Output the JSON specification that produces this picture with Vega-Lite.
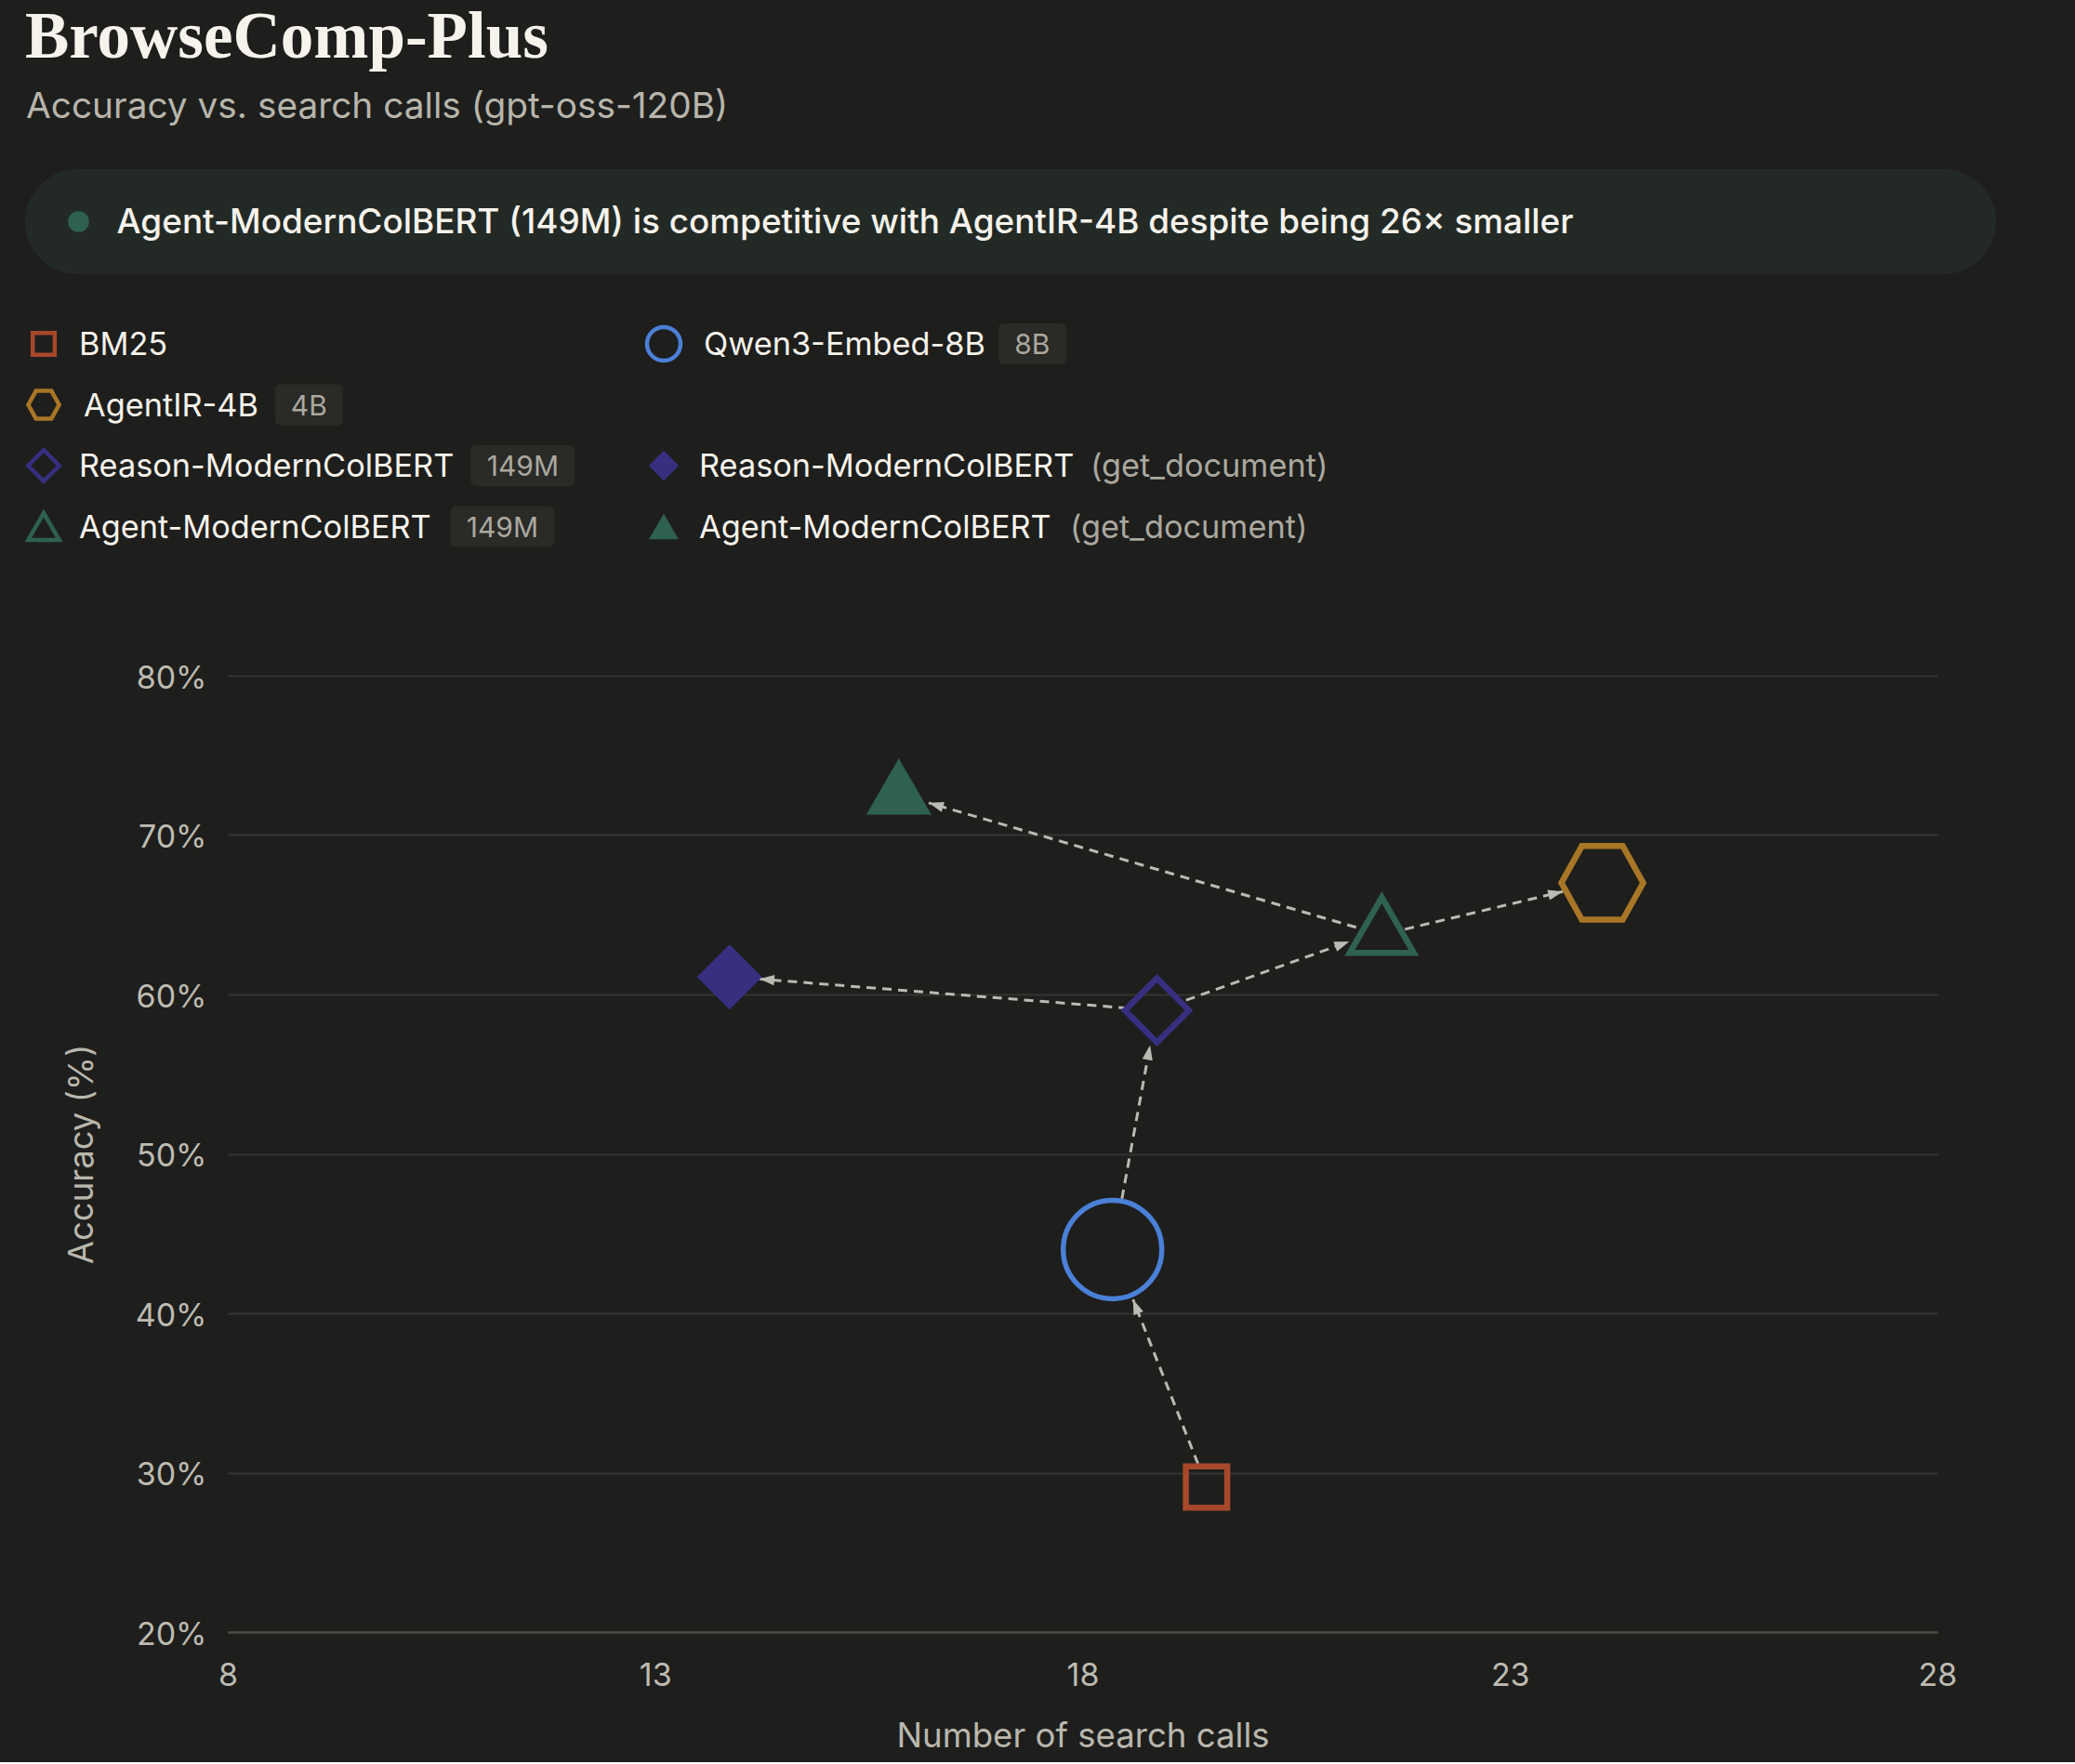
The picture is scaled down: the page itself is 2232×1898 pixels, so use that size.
{
  "$schema": "https://vega.github.io/schema/vega-lite/v6.json",
  "background": "#1e1e1c",
  "padding": {"left": 21, "right": 85, "top": 0, "bottom": 9},
  "bounds": "flush",
  "spacing": 87,
  "config": {
    "font": "Inter",
    "view": {"stroke": null},
    "axis": {
      "labelFont": "Inter", "titleFont": "Inter",
      "labelColor": "#bdbbb1", "titleColor": "#b9b7ad",
      "labelFontSize": 34, "titleFontSize": 36.6, "titleFontWeight": "normal",
      "ticks": false, "domain": false, "labelFlush": false,
      "gridColor": "#343432", "gridWidth": 2
    },
    "axisX": {"grid": false, "domain": true, "domainColor": "#4a4a47", "domainWidth": 2.5, "labelPadding": 30, "titlePadding": 30},
    "axisY": {"grid": true, "labelPadding": 23, "titlePadding": 38, "labelOffset": 3}
  },
  "datasets": {
    "models": [
      {"model": "BM25", "calls": 19.45, "acc": 29.1, "tool": "search"},
      {"model": "Qwen3-Embed-8B", "calls": 18.35, "acc": 44.0, "tool": "search"},
      {"model": "AgentIR-4B", "calls": 24.08, "acc": 67.0, "tool": "search"},
      {"model": "Reason-ModernColBERT", "calls": 18.87, "acc": 59.0, "tool": "search"},
      {"model": "Reason-ModernColBERT (get_document)", "calls": 13.87, "acc": 61.1, "tool": "get_document"},
      {"model": "Agent-ModernColBERT", "calls": 21.5, "acc": 64.35, "tool": "search"},
      {"model": "Agent-ModernColBERT (get_document)", "calls": 15.85, "acc": 73.05, "tool": "get_document"}
    ],
    "arrows": [
      {"from": "BM25", "to": "Qwen3-Embed-8B", "x1": 19.35, "y1": 30.55, "x2": 18.59, "y2": 40.86},
      {"from": "Qwen3-Embed-8B", "to": "Reason-ModernColBERT", "x1": 18.46, "y1": 47.18, "x2": 18.79, "y2": 56.82},
      {"from": "Reason-ModernColBERT", "to": "Reason-ModernColBERT (get_document)", "x1": 18.53, "y1": 59.14, "x2": 14.22, "y2": 60.97},
      {"from": "Reason-ModernColBERT", "to": "Agent-ModernColBERT", "x1": 19.21, "y1": 59.64, "x2": 21.12, "y2": 63.32},
      {"from": "Agent-ModernColBERT", "to": "Agent-ModernColBERT (get_document)", "x1": 21.2, "y1": 64.21, "x2": 16.2, "y2": 72.02},
      {"from": "Agent-ModernColBERT", "to": "AgentIR-4B", "x1": 21.77, "y1": 64.09, "x2": 23.62, "y2": 66.46}
    ],
    "legend": [
      {"model": "BM25", "label": "BM25", "badge": "", "note": "", "col": 0, "row": 0},
      {"model": "Qwen3-Embed-8B", "label": "Qwen3-Embed-8B", "badge": "8B", "note": "", "col": 1, "row": 0},
      {"model": "AgentIR-4B", "label": "AgentIR-4B", "badge": "4B", "note": "", "col": 0, "row": 1},
      {"model": "Reason-ModernColBERT", "label": "Reason-ModernColBERT", "badge": "149M", "note": "", "col": 0, "row": 2},
      {"model": "Reason-ModernColBERT (get_document)", "label": "Reason-ModernColBERT", "badge": "", "note": "(get_document)", "col": 1, "row": 2},
      {"model": "Agent-ModernColBERT", "label": "Agent-ModernColBERT", "badge": "149M", "note": "", "col": 0, "row": 3},
      {"model": "Agent-ModernColBERT (get_document)", "label": "Agent-ModernColBERT", "badge": "", "note": "(get_document)", "col": 1, "row": 3}
    ]
  },
  "resolve": {"scale": {"x": "independent", "y": "independent"}},
  "vconcat": [
    {
      "width": 1839,
      "height": 640,
      "layer": [
        {
          "data": {"values": [{"t": "BrowseComp-Plus"}]},
          "mark": {"type": "text", "align": "left", "baseline": "alphabetic", "font": "Liberation Serif", "fontSize": 71, "fontWeight": "bold", "color": "#f6f3ec"},
          "encoding": {
            "x": {"datum": -218, "type": "quantitative", "scale": {"domain": [0, 1839], "nice": false, "zero": false}, "axis": null},
            "y": {"datum": 62, "type": "quantitative", "scale": {"domain": [0, 640], "nice": false, "zero": false, "reverse": true}, "axis": null},
            "text": {"field": "t"}
          }
        },
        {
          "data": {"values": [{"t": "Accuracy vs. search calls (gpt-oss-120B)"}]},
          "mark": {"type": "text", "align": "left", "baseline": "alphabetic", "font": "Inter", "fontSize": 38.8, "color": "#b7b5ab"},
          "encoding": {
            "x": {"datum": -217, "type": "quantitative", "scale": {"domain": [0, 1839], "nice": false, "zero": false}, "axis": null},
            "y": {"datum": 127, "type": "quantitative", "scale": {"domain": [0, 640], "nice": false, "zero": false, "reverse": true}, "axis": null},
            "text": {"field": "t"}
          }
        },
        {
          "data": {"values": [{"t": "callout"}]},
          "mark": {"type": "rect", "cornerRadius": 56.5, "color": "#232a26"},
          "encoding": {
            "x": {"datum": -218, "type": "quantitative", "scale": {"domain": [0, 1839], "nice": false, "zero": false}, "axis": null},
            "x2": {"datum": 1902},
            "y": {"datum": 182, "type": "quantitative", "scale": {"domain": [0, 640], "nice": false, "zero": false, "reverse": true}, "axis": null},
            "y2": {"datum": 295}
          }
        },
        {
          "data": {"values": [{"t": "dot"}]},
          "mark": {"type": "point", "shape": "circle", "filled": true, "size": 511, "opacity": 1, "color": "#2e614f"},
          "encoding": {
            "x": {"datum": -160.5, "type": "quantitative", "scale": {"domain": [0, 1839], "nice": false, "zero": false}, "axis": null},
            "y": {"datum": 238.5, "type": "quantitative", "scale": {"domain": [0, 640], "nice": false, "zero": false, "reverse": true}, "axis": null}
          }
        },
        {
          "data": {"values": [{"t": "Agent-ModernColBERT (149M) is competitive with AgentIR-4B despite being 26× smaller"}]},
          "mark": {"type": "text", "align": "left", "baseline": "middle", "font": "Inter", "fontSize": 36.9, "fontWeight": 500, "color": "#f6f3ec"},
          "encoding": {
            "x": {"datum": -119.5, "type": "quantitative", "scale": {"domain": [0, 1839], "nice": false, "zero": false}, "axis": null},
            "y": {"datum": 239.5, "type": "quantitative", "scale": {"domain": [0, 640], "nice": false, "zero": false, "reverse": true}, "axis": null},
            "text": {"field": "t"}
          }
        },
        {
          "data": {"name": "legend"},
          "transform": [
            {"calculate": "datum.col == 0 ? -198 : 469", "as": "sx"},
            {"calculate": "370 + datum.row * 65.5", "as": "cy"},
            {"calculate": "datum.sx + (indexof(['Qwen3-Embed-8B', 'AgentIR-4B'], datum.model) >= 0 ? 43 : 38)", "as": "tx"},
            {"calculate": "18.5*length(datum.label) + 4.6*length(replace(datum.label, regexp('[^A-HJ-LN-VX-Z]', 'g'), '')) + 16.8*length(replace(datum.label, regexp('[^MWmw]', 'g'), '')) - 3.5*length(replace(datum.label, regexp('[^iIltfjr-]', 'g'), ''))", "as": "lw"},
            {"calculate": "datum.tx + datum.lw + 17.5", "as": "bx0"},
            {"calculate": "datum.bx0 + 19.5*length(datum.badge) + 34", "as": "bx1"},
            {"calculate": "(datum.bx0 + datum.bx1) / 2", "as": "bcx"},
            {"calculate": "datum.cy - 22", "as": "by0"},
            {"calculate": "datum.cy + 22", "as": "by1"},
            {"calculate": "datum.tx + datum.lw + 17", "as": "nx"}
          ],
          "layer": [
            {
              "transform": [{"filter": "datum.note == ''"}],
              "mark": {"type": "point", "filled": false, "opacity": 1, "strokeWidth": 4.5},
              "encoding": {
                "x": {"field": "sx", "type": "quantitative", "scale": {"domain": [0, 1839], "nice": false, "zero": false}, "axis": null},
                "y": {"field": "cy", "type": "quantitative", "scale": {"domain": [0, 640], "nice": false, "zero": false, "reverse": true}, "axis": null},
                "color": {"field": "model", "type": "nominal", "legend": null, "scale": {"domain": ["BM25", "Qwen3-Embed-8B", "AgentIR-4B", "Reason-ModernColBERT", "Reason-ModernColBERT (get_document)", "Agent-ModernColBERT", "Agent-ModernColBERT (get_document)"], "range": ["#a8482b", "#4a80d6", "#a87626", "#372f80", "#372f80", "#2e614f", "#2e614f"]}},
                "shape": {"field": "model", "type": "nominal", "legend": null, "scale": {"domain": ["BM25", "Qwen3-Embed-8B", "AgentIR-4B", "Reason-ModernColBERT", "Reason-ModernColBERT (get_document)", "Agent-ModernColBERT", "Agent-ModernColBERT (get_document)"], "range": ["square", "circle", "M-1,0L-0.5,-0.9L0.5,-0.9L1,0L0.5,0.9L-0.5,0.9Z", "M-1,0L0,-1L1,0L0,1Z", "M-1,0L0,-1L1,0L0,1Z", "triangle-up", "triangle-up"]}},
                "size": {"condition": [
                  {"test": "datum.model == 'BM25'", "value": 560},
                  {"test": "datum.model == 'Qwen3-Embed-8B'", "value": 1300},
                  {"test": "datum.model == 'AgentIR-4B'", "value": 1100}
                ], "value": 1120}
              }
            },
            {
              "transform": [{"filter": "datum.note != ''"}],
              "mark": {"type": "point", "filled": true, "opacity": 1},
              "encoding": {
                "x": {"field": "sx", "type": "quantitative", "scale": {"domain": [0, 1839], "nice": false, "zero": false}, "axis": null},
                "y": {"field": "cy", "type": "quantitative", "scale": {"domain": [0, 640], "nice": false, "zero": false, "reverse": true}, "axis": null},
                "color": {"field": "model", "type": "nominal", "legend": null, "scale": {"domain": ["BM25", "Qwen3-Embed-8B", "AgentIR-4B", "Reason-ModernColBERT", "Reason-ModernColBERT (get_document)", "Agent-ModernColBERT", "Agent-ModernColBERT (get_document)"], "range": ["#a8482b", "#4a80d6", "#a87626", "#372f80", "#372f80", "#2e614f", "#2e614f"]}},
                "shape": {"field": "model", "type": "nominal", "legend": null, "scale": {"domain": ["BM25", "Qwen3-Embed-8B", "AgentIR-4B", "Reason-ModernColBERT", "Reason-ModernColBERT (get_document)", "Agent-ModernColBERT", "Agent-ModernColBERT (get_document)"], "range": ["square", "circle", "M-1,0L-0.5,-0.9L0.5,-0.9L1,0L0.5,0.9L-0.5,0.9Z", "M-1,0L0,-1L1,0L0,1Z", "M-1,0L0,-1L1,0L0,1Z", "triangle-up", "triangle-up"]}},
                "size": {"condition": [
                  {"test": "datum.model == 'Reason-ModernColBERT (get_document)'", "value": 1050}
                ], "value": 1024}
              }
            },
            {
              "transform": [{"filter": "datum.badge != ''"}],
              "mark": {"type": "rect", "cornerRadius": 6, "color": "#2a2a27"},
              "encoding": {
                "x": {"field": "bx0", "type": "quantitative", "scale": {"domain": [0, 1839], "nice": false, "zero": false}, "axis": null},
                "x2": {"field": "bx1"},
                "y": {"field": "by0", "type": "quantitative", "scale": {"domain": [0, 640], "nice": false, "zero": false, "reverse": true}, "axis": null},
                "y2": {"field": "by1"}
              }
            },
            {
              "transform": [{"filter": "datum.badge != ''"}],
              "mark": {"type": "text", "align": "center", "baseline": "middle", "dy": 2, "font": "Inter", "fontSize": 30, "color": "#aaa89f"},
              "encoding": {
                "x": {"field": "bcx", "type": "quantitative", "scale": {"domain": [0, 1839], "nice": false, "zero": false}, "axis": null},
                "y": {"field": "cy", "type": "quantitative", "scale": {"domain": [0, 640], "nice": false, "zero": false, "reverse": true}, "axis": null},
                "text": {"field": "badge"}
              }
            },
            {
              "mark": {"type": "text", "align": "left", "baseline": "middle", "dy": 2, "font": "Inter", "fontSize": 34.3, "color": "#f6f3ec"},
              "encoding": {
                "x": {"field": "tx", "type": "quantitative", "scale": {"domain": [0, 1839], "nice": false, "zero": false}, "axis": null},
                "y": {"field": "cy", "type": "quantitative", "scale": {"domain": [0, 640], "nice": false, "zero": false, "reverse": true}, "axis": null},
                "text": {"field": "label"}
              }
            },
            {
              "transform": [{"filter": "datum.note != ''"}],
              "mark": {"type": "text", "align": "left", "baseline": "middle", "dy": 2, "font": "Inter", "fontSize": 34.3, "color": "#aaa89f"},
              "encoding": {
                "x": {"field": "nx", "type": "quantitative", "scale": {"domain": [0, 1839], "nice": false, "zero": false}, "axis": null},
                "y": {"field": "cy", "type": "quantitative", "scale": {"domain": [0, 640], "nice": false, "zero": false, "reverse": true}, "axis": null},
                "text": {"field": "note"}
              }
            }
          ]
        }
      ]
    },
    {
      "width": 1839,
      "height": 1029,
      "layer": [
        {
          "data": {"name": "arrows"},
          "mark": {"type": "rule", "color": "#bbbab3", "strokeWidth": 3, "strokeDash": [10, 7]},
          "encoding": {
            "x": {"field": "x1", "type": "quantitative", "scale": {"domain": [8, 28], "nice": false, "zero": false}, "axis": {"title": "Number of search calls", "values": [8, 13, 18, 23, 28], "format": "d"}},
            "x2": {"field": "x2"},
            "y": {"field": "y1", "type": "quantitative", "scale": {"domain": [20, 80], "nice": false, "zero": false}, "axis": {"title": "Accuracy (%)", "values": [20, 30, 40, 50, 60, 70, 80], "labelExpr": "datum.value + '%'"}},
            "y2": {"field": "y2"}
          }
        },
        {
          "data": {"name": "arrows"},
          "transform": [
            {"calculate": "atan2((datum.x2 - datum.x1) * 91.95, (datum.y2 - datum.y1) * 17.15) * 180 / PI", "as": "ang"}
          ],
          "mark": {"type": "point", "filled": true, "opacity": 1, "color": "#bbbab3", "shape": "M0,0L-0.7,2L0.7,2Z", "size": 256},
          "encoding": {
            "x": {"field": "x2", "type": "quantitative", "scale": {"domain": [8, 28], "nice": false, "zero": false}, "axis": {"title": "Number of search calls", "values": [8, 13, 18, 23, 28], "format": "d"}},
            "y": {"field": "y2", "type": "quantitative", "scale": {"domain": [20, 80], "nice": false, "zero": false}, "axis": {"title": "Accuracy (%)", "values": [20, 30, 40, 50, 60, 70, 80], "labelExpr": "datum.value + '%'"}},
            "angle": {"field": "ang", "type": "quantitative", "scale": null}
          }
        },
        {
          "data": {"name": "models"},
          "transform": [{"filter": "datum.tool == 'search'"}],
          "mark": {"type": "point", "filled": false, "opacity": 1},
          "encoding": {
            "x": {"field": "calls", "type": "quantitative", "scale": {"domain": [8, 28], "nice": false, "zero": false}, "axis": {"title": "Number of search calls", "values": [8, 13, 18, 23, 28], "format": "d"}},
            "y": {"field": "acc", "type": "quantitative", "scale": {"domain": [20, 80], "nice": false, "zero": false}, "axis": {"title": "Accuracy (%)", "values": [20, 30, 40, 50, 60, 70, 80], "labelExpr": "datum.value + '%'"}},
            "color": {"field": "model", "type": "nominal", "legend": null, "scale": {"domain": ["BM25", "Qwen3-Embed-8B", "AgentIR-4B", "Reason-ModernColBERT", "Reason-ModernColBERT (get_document)", "Agent-ModernColBERT", "Agent-ModernColBERT (get_document)"], "range": ["#a8482b", "#4a80d6", "#a87626", "#372f80", "#372f80", "#2e614f", "#2e614f"]}},
            "shape": {"field": "model", "type": "nominal", "legend": null, "scale": {"domain": ["BM25", "Qwen3-Embed-8B", "AgentIR-4B", "Reason-ModernColBERT", "Reason-ModernColBERT (get_document)", "Agent-ModernColBERT", "Agent-ModernColBERT (get_document)"], "range": ["square", "circle", "M-1,0L-0.5,-0.9L0.5,-0.9L1,0L0.5,0.9L-0.5,0.9Z", "M-1,0L0,-1L1,0L0,1Z", "M-1,0L0,-1L1,0L0,1Z", "triangle-up", "triangle-up"]}},
            "size": {"condition": [
              {"test": "datum.model == 'BM25'", "value": 1980},
              {"test": "datum.model == 'Qwen3-Embed-8B'", "value": 11236},
              {"test": "datum.model == 'AgentIR-4B'", "value": 7744}
            ], "value": 4760},
            "strokeWidth": {"condition": [
              {"test": "datum.model == 'BM25'", "value": 6.5},
              {"test": "datum.model == 'Qwen3-Embed-8B'", "value": 5.5},
              {"test": "datum.model == 'AgentIR-4B'", "value": 6.5}
            ], "value": 6.5}
          }
        },
        {
          "data": {"name": "models"},
          "transform": [{"filter": "datum.tool == 'get_document'"}],
          "mark": {"type": "point", "filled": true, "opacity": 1, "size": 4900},
          "encoding": {
            "x": {"field": "calls", "type": "quantitative", "scale": {"domain": [8, 28], "nice": false, "zero": false}, "axis": {"title": "Number of search calls", "values": [8, 13, 18, 23, 28], "format": "d"}},
            "y": {"field": "acc", "type": "quantitative", "scale": {"domain": [20, 80], "nice": false, "zero": false}, "axis": {"title": "Accuracy (%)", "values": [20, 30, 40, 50, 60, 70, 80], "labelExpr": "datum.value + '%'"}},
            "color": {"field": "model", "type": "nominal", "legend": null, "scale": {"domain": ["BM25", "Qwen3-Embed-8B", "AgentIR-4B", "Reason-ModernColBERT", "Reason-ModernColBERT (get_document)", "Agent-ModernColBERT", "Agent-ModernColBERT (get_document)"], "range": ["#a8482b", "#4a80d6", "#a87626", "#372f80", "#372f80", "#2e614f", "#2e614f"]}},
            "shape": {"field": "model", "type": "nominal", "legend": null, "scale": {"domain": ["BM25", "Qwen3-Embed-8B", "AgentIR-4B", "Reason-ModernColBERT", "Reason-ModernColBERT (get_document)", "Agent-ModernColBERT", "Agent-ModernColBERT (get_document)"], "range": ["square", "circle", "M-1,0L-0.5,-0.9L0.5,-0.9L1,0L0.5,0.9L-0.5,0.9Z", "M-1,0L0,-1L1,0L0,1Z", "M-1,0L0,-1L1,0L0,1Z", "triangle-up", "triangle-up"]}}
          }
        }
      ]
    }
  ]
}
